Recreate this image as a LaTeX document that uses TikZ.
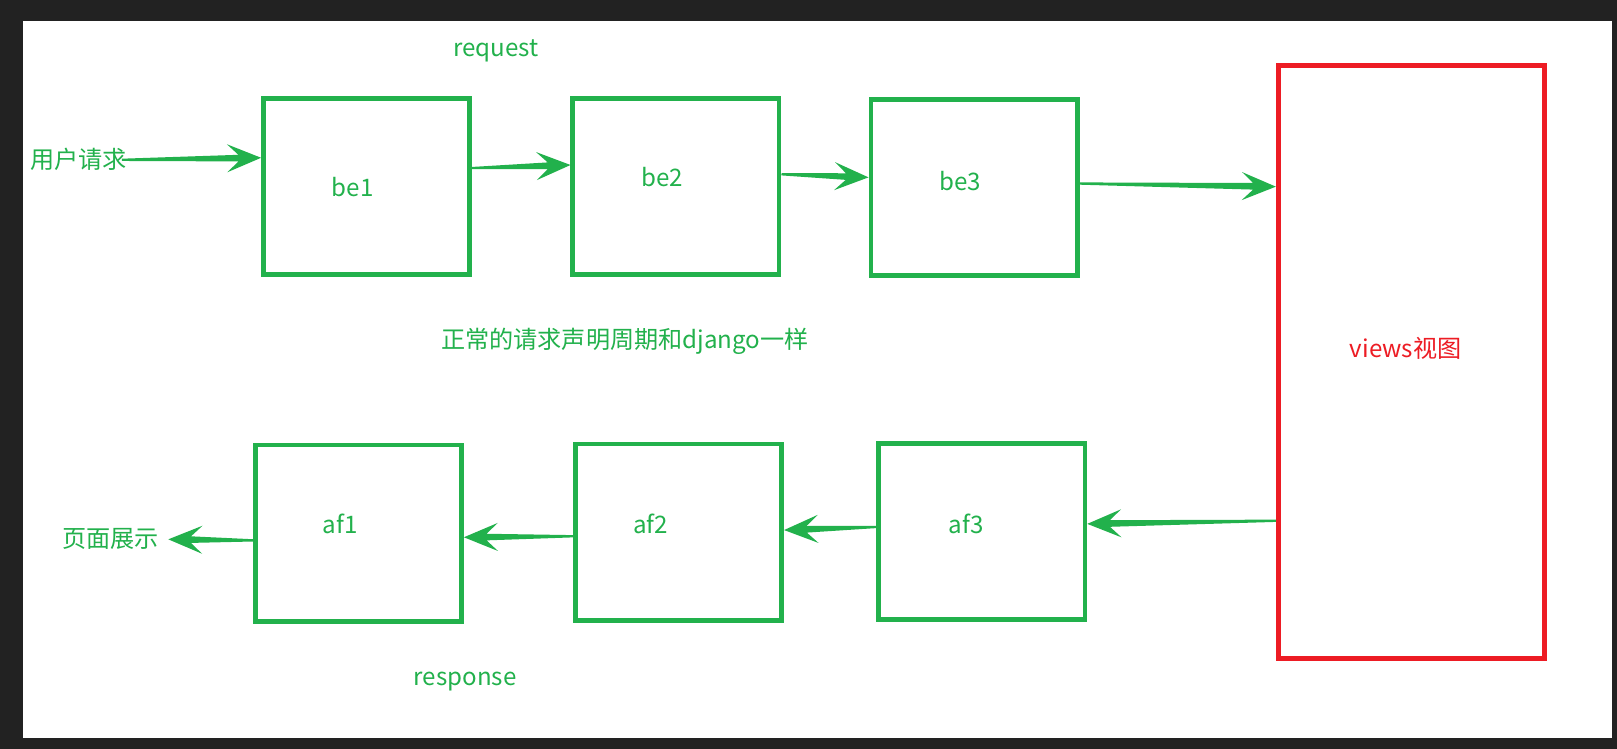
\documentclass[tikz,border=0pt]{standalone}
\usepackage{fontspec}
\newfontfamily\cjk{Noto Sans CJK SC}
\usetikzlibrary{calc}
\definecolor{gr}{HTML}{22B14C}
\definecolor{rd}{HTML}{ED1C24}
\definecolor{bgdark}{HTML}{222222}
\newcommand{\flowarrow}[2]{%
  \path (#2) coordinate (tmpT) ($(#2)!11pt!(#1)$) coordinate (tmpN) ($(#2)!16.5pt!(#1)$) coordinate (tmpB);
  \fill[gr] ($(#1)!0.55pt!90:(#2)$) -- ($(tmpN)!1.6pt!-90:(#1)$) -- ($(tmpB)!6.8pt!-90:(#1)$) -- (tmpT)
    -- ($(tmpB)!6.8pt!90:(#1)$) -- ($(tmpN)!1.6pt!90:(#1)$) -- ($(#1)!0.55pt!-90:(#2)$) -- cycle;
}
\tikzset{
  gbox/.style={draw=gr, line width=2.3pt, inner sep=0pt, outer sep=1.15pt, minimum width=100pt, minimum height=85.5pt},
  vbox/.style={draw=rd, line width=2.3pt, inner sep=0pt, outer sep=1.15pt, minimum width=129pt, minimum height=287.5pt},
  lbl/.style={font=\cjk\fontsize{11.7}{14}\selectfont, text=gr, inner sep=0pt},
  rlbl/.style={font=\cjk\fontsize{11.7}{14}\selectfont, text=rd, inner sep=0pt},
}
\begin{document}
\begin{tikzpicture}[x=0.5pt,y=-0.5pt]
  \fill[bgdark] (0,0) rectangle (1568,726);
  \fill[white] (22,20) rectangle (1563,716);
  \useasboundingbox (0,0) rectangle (1568,726);

  % boxes
  \node[gbox] (be1) at (355.5,181) {};
  \node[gbox] (be2) at (655.5,181) {};
  \node[gbox] (be3) at (944.5,182) {};
  \node[vbox] (views) at (1368.5,351) {};
  \node[gbox] (af1) at (347.5,517) {};
  \node[gbox] (af2) at (658,516) {};
  \node[gbox] (af3) at (952,515.5) {};

  % labels
  \node[lbl] (lbe1) at (342,181) {be1};
  \node[lbl] (lbe2) at (642,172) {be2};
  \node[lbl] (lbe3) at (931,176) {be3};
  \node[lbl] (laf1) at (330,508) {af1};
  \node[lbl] (laf2) at (631,508) {af2};
  \node[lbl] (laf3) at (937,508) {af3};
  \node[rlbl] (lviews) at (1363,338) {views视图};
  \node[lbl] (req) at (481,49) {request};
  \node[lbl] (resp) at (451,661) {response};
  \node[lbl] (note) at (606,331) {正常的请求声明周期和django一样};
  \node[lbl] (yh) at (76,155) {用户请求};
  \node[lbl] (pg) at (107,523) {页面展示};

  % arrow end points
  \coordinate (a0s) at ([xshift=-2.5pt]yh.east);
  \coordinate (a0t) at ([yshift=14pt]be1.west);
  \coordinate (a1s) at ([yshift=9pt]be1.east);
  \coordinate (a1t) at ([yshift=10.5pt]be2.west);
  \coordinate (a2s) at ([yshift=6pt]be2.east);
  \coordinate (a2t) at ([yshift=5pt]be3.west);
  \coordinate (a3s) at ([yshift=2pt]be3.east);
  \coordinate (a3t) at ([yshift=85pt]views.west);
  \coordinate (a4s) at ([yshift=-77pt]views.west);
  \coordinate (a4t) at ([yshift=3.75pt]af3.east);
  \coordinate (a5s) at ([yshift=2.25pt]af3.west);
  \coordinate (a5t) at ([yshift=1pt]af2.east);
  \coordinate (a6s) at ([yshift=-2pt]af2.west);
  \coordinate (a6t) at ([yshift=-2pt]af1.east);
  \coordinate (a7s) at ([yshift=-3.5pt]af1.west);
  \coordinate (a7t) at ([xshift=4.5pt]pg.east);

  \flowarrow{a0s}{a0t}
  \flowarrow{a1s}{a1t}
  \flowarrow{a2s}{a2t}
  \flowarrow{a3s}{a3t}
  \flowarrow{a4s}{a4t}
  \flowarrow{a5s}{a5t}
  \flowarrow{a6s}{a6t}
  \flowarrow{a7s}{a7t}
\end{tikzpicture}
\end{document}
